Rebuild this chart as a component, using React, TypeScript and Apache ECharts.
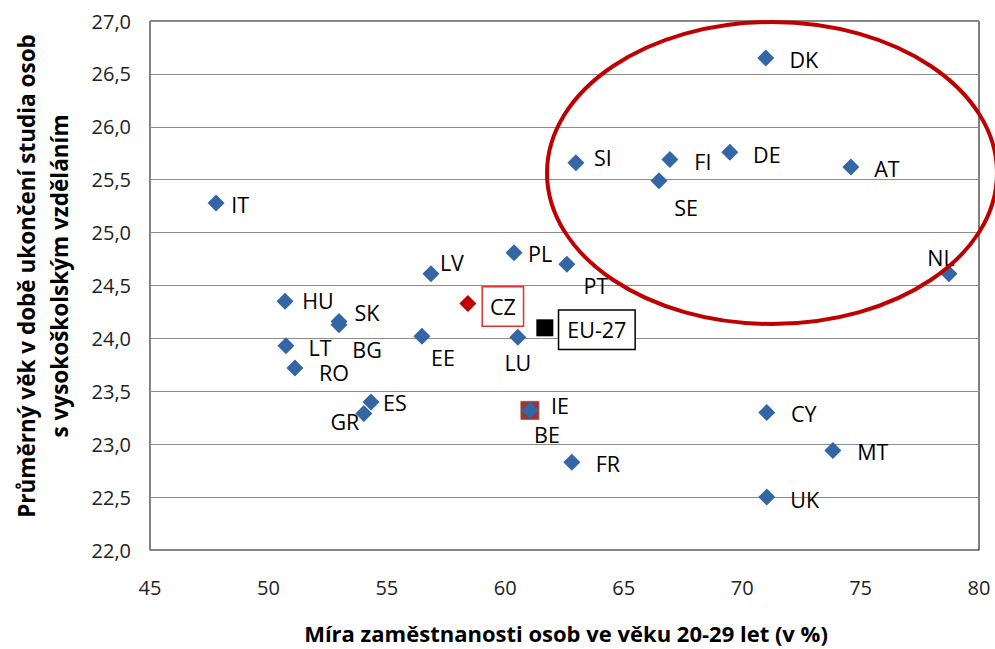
import React, { useEffect, useRef } from "react";
import * as echarts from "echarts";

const countries = ["DK", "SI", "FI", "DE", "AT", "SE", "IT", "NL", "PL", "PT", "LV", "HU", "SK", "BG", "LT", "RO", "EE", "LU", "ES", "GR", "FR", "CY", "MT", "UK", "BE"];
const employmentRate = [71.0, 62.98, 66.95, 69.48, 74.59, 66.49, 47.79, 78.73, 60.37, 62.6, 56.86, 50.7, 52.98, 52.98, 50.74, 51.12, 56.48, 60.53, 54.33, 54.03, 62.81, 71.04, 73.83, 71.04, 61.04];
const graduationAge = [26.65, 25.66, 25.69, 25.76, 25.62, 25.49, 25.28, 24.61, 24.81, 24.7, 24.61, 24.35, 24.16, 24.13, 23.93, 23.72, 24.02, 24.01, 23.4, 23.29, 22.83, 23.3, 22.94, 22.5, 23.32];

const czName = ["CZ"];
const czRate = [58.42];
const czAge = [24.33];

const euName = ["EU-27"];
const euRate = [61.67];
const euAge = [24.1];

const ieName = ["IE"];
const ieRate = [61.04];
const ieAge = [23.32];

const xTicks = [45, 50, 55, 60, 65, 70, 75, 80];
const yTicks = [22, 22.5, 23, 23.5, 24, 24.5, 25, 25.5, 26, 26.5, 27];

// label offsets (layout), in px relative to the marker centre
const labelOffsets: Record<string, [number, number]> = {
  DK: [38, 1], SI: [27, -5], FI: [33, 2], DE: [37, 2], AT: [36, 1], SE: [27, 27],
  IT: [24, 2], NL: [-8, -16], PL: [26, 1], PT: [29, 21], LV: [21, -11], HU: [33, -1],
  SK: [28, -9], BG: [28, 25], LT: [34, 2], RO: [39, 4], EE: [21, 21], LU: [0, 25],
  ES: [24, 1], GR: [-19, 8], FR: [36, 1], CY: [37, 1], MT: [40, 1], UK: [38, 2],
  BE: [17, 24], IE: [30, -5], CZ: [35, 3], "EU-27": [52, 2],
};

const FONT = "Open Sans";

function mkData(names: string[], xs: number[], ys: number[]) {
  return names.map((n, i) => ({
    name: n,
    value: [xs[i], ys[i]],
    label: { offset: labelOffsets[n] || [30, 0] },
  }));
}

export default function App() {
  const ref = useRef<HTMLDivElement>(null);
  useEffect(() => {
    if (!ref.current) return;
    const chart = echarts.init(ref.current, null, { renderer: "svg" });
    const baseLabel = {
      show: true,
      position: "inside" as const,
      formatter: "{b}",
      color: "#000",
      fontFamily: FONT,
      fontSize: 21.5,
      lineHeight: 18,
    };
    chart.setOption({
      animation: false,
      backgroundColor: "#fff",
      grid: {
        left: 150, right: 16, top: 21, bottom: 99,
        show: true, borderColor: "#000", borderWidth: 1, backgroundColor: "transparent",
      },
      xAxis: {
        type: "value", min: xTicks[0], max: xTicks[xTicks.length - 1], interval: 5,
        axisLine: { show: true, onZero: false, lineStyle: { color: "#868686", width: 1 } },
        axisTick: { show: false },
        splitLine: { show: false },
        axisLabel: { margin: 27, fontFamily: FONT, fontSize: 20, color: "#222" },
      },
      yAxis: {
        type: "value", min: yTicks[0], max: yTicks[yTicks.length - 1], interval: 0.5,
        axisLine: { show: true, onZero: false, lineStyle: { color: "#868686", width: 1 } },
        axisTick: { show: false },
        splitLine: { show: true, lineStyle: { color: "#8c8c8c", width: 1 } },
        axisLabel: {
          margin: 19, fontFamily: FONT, fontSize: 20, color: "#222",
          formatter: (v: number) => v.toFixed(1).replace(".", ","),
        },
      },
      graphic: [
        {
          type: "ellipse", z: 100,
          shape: { cx: 772, cy: 173, rx: 225, ry: 151 },
          style: { fill: "none", stroke: "#C00000", lineWidth: 4 },
        },
        {
          type: "text", x: 43, y: 276, rotation: Math.PI / 2,
          style: {
            text: "Průměrný věk v době ukončení studia osob\ns vysokoškolským vzděláním",
            font: `bold 22.5px "${FONT}"`, fill: "#000",
            align: "center", verticalAlign: "middle", lineHeight: 33,
          },
        },
        {
          type: "text", x: 566, y: 633,
          style: {
            text: "Míra zaměstnanosti osob ve věku 20-29 let (v %)",
            font: `bold 22px "${FONT}"`, fill: "#000",
            align: "center", verticalAlign: "middle",
          },
        },
      ],
      series: [
        {
          type: "scatter", name: "IE", symbol: "rect", symbolSize: 18, z: 2,
          itemStyle: { color: "#953735", borderColor: "#B05050", borderWidth: 1, opacity: 1 },
          label: baseLabel,
          data: mkData(ieName, ieRate, ieAge),
        },
        {
          type: "scatter", name: "countries", symbol: "diamond", symbolSize: 17, z: 3,
          itemStyle: { color: "#3465A5", opacity: 1 },
          label: baseLabel,
          data: mkData(countries, employmentRate, graduationAge),
        },
        {
          type: "scatter", name: "CZ", symbol: "diamond", symbolSize: 17, z: 3,
          itemStyle: { color: "#C00000", opacity: 1 },
          label: {
            ...baseLabel, backgroundColor: "#fff", borderColor: "#E03030", borderWidth: 1.5,
            padding: [11, 7, 9, 7],
          },
          data: mkData(czName, czRate, czAge),
        },
        {
          type: "scatter", name: "EU-27", symbol: "rect", symbolSize: 17, z: 3,
          itemStyle: { color: "#000", opacity: 1 },
          label: {
            ...baseLabel, backgroundColor: "#fff", borderColor: "#000", borderWidth: 1.5,
            padding: [11, 8, 9, 8],
          },
          data: mkData(euName, euRate, euAge),
        },
      ],
    });
    return () => chart.dispose();
  }, []);
  return (
    <div
      ref={ref}
      style={{ position: "absolute", left: 0, top: 0, width: 995, height: 649 }}
    />
  );
}
